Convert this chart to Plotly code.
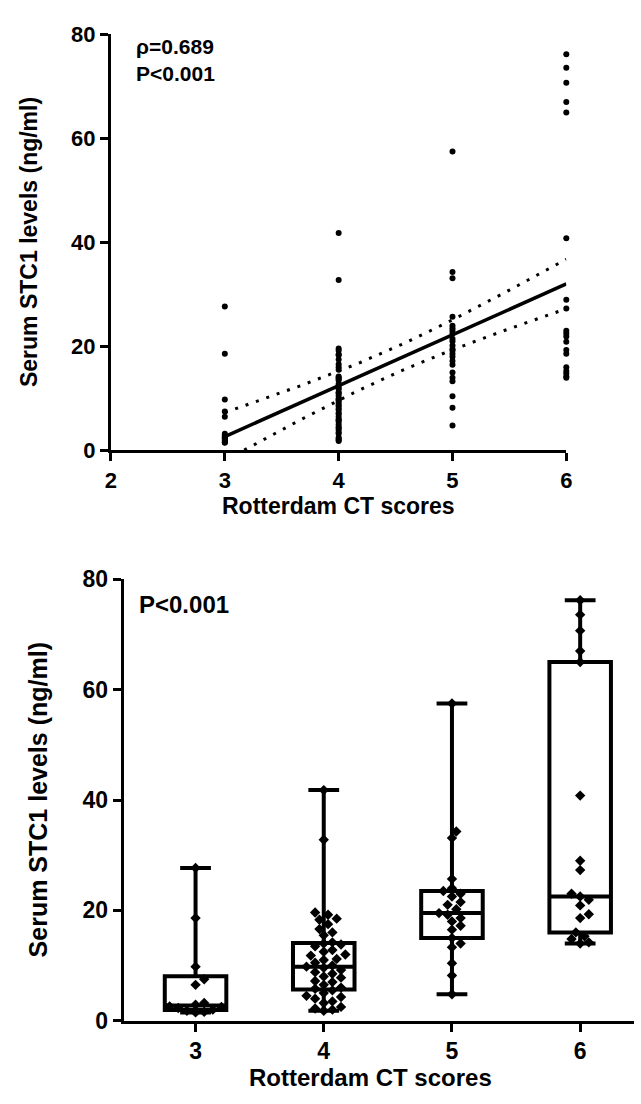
import numpy as np
import plotly.graph_objects as go

# ---------------- data ----------------
scores = [3, 4, 5, 6]
score_labels = ["3", "4", "5", "6"]
stc1_score3 = [27.7, 18.6, 9.8, 7.5, 6.5, 3.2, 2.9, 2.6, 2.5, 2.3, 2.0, 1.8, 1.6, 1.5]
stc1_score4 = [41.8, 32.8, 19.6, 19.2, 18.5, 18.3, 17.5, 16.6, 16.0, 15.5, 14.2, 14.0,
               13.8, 13.5, 12.8, 12.5, 12.0, 11.8, 11.2, 11.0, 10.5, 10.0, 9.8, 9.6,
               9.2, 8.8, 8.5, 8.0, 7.8, 7.2, 7.0, 6.5, 6.0, 5.8, 5.5, 5.0, 4.5, 4.3,
               4.0, 3.5, 3.2, 2.5, 2.2, 2.0, 1.8]
stc1_score5 = [57.5, 34.3, 33.1, 25.7, 24.0, 23.5, 23.0, 22.5, 21.5, 21.0, 20.2, 19.5,
               19.2, 18.6, 18.0, 17.2, 16.5, 15.0, 14.0, 13.3, 10.4, 8.2, 4.8]
stc1_score6 = [76.2, 73.6, 70.7, 67.0, 65.0, 40.8, 29.0, 27.3, 23.0, 22.5, 21.9, 20.9,
               19.3, 18.6, 16.0, 15.3, 14.8, 14.2, 14.0]
groups = [stc1_score3, stc1_score4, stc1_score5, stc1_score6]
y_ticks = [0, 20, 40, 60, 80]
x_ticks_top = [2, 3, 4, 5, 6]
x_title = "Rotterdam CT scores"
y_title = "Serum STC1 levels (ng/ml)"
rho_text = "ρ=0.689"
p_text = "P<0.001"

# ---------------- layout geometry ----------------
W, H = 641, 1104
FONT = "Liberation Sans, Arial, sans-serif"
BLACK = "#000000"

top_x_dom = [107 / W, 571 / W]
top_y_dom = [1 - 448 / H, 1 - 22 / H]
bot_x_dom = [120 / W, 640 / W]
bot_y_dom = [1 - 1032 / H, 1 - 580 / H]
bot_x_range = [-0.56, 3.42]

fig = go.Figure()

# ---------------- top: scatter with regression ----------------
xs = np.concatenate([[s] * len(g) for s, g in zip(scores, groups)]).astype(float)
ys = np.concatenate(groups).astype(float)

fig.add_trace(go.Scatter(
    x=xs, y=ys, mode="markers", xaxis="x", yaxis="y",
    marker=dict(color=BLACK, size=6, symbol="circle"),
    cliponaxis=False, showlegend=False, hoverinfo="x+y"))

n = len(xs)
slope, intercept = np.polyfit(xs, ys, 1)
resid = ys - (slope * xs + intercept)
s_err = np.sqrt(np.sum(resid ** 2) / (n - 2))
xbar = xs.mean()
sxx = np.sum((xs - xbar) ** 2)
t_crit = 1.984
xfit = np.linspace(3, 6, 61)
yfit = slope * xfit + intercept
half = t_crit * s_err * np.sqrt(1 / n + (xfit - xbar) ** 2 / sxx)

fig.add_trace(go.Scatter(x=xfit, y=yfit, mode="lines", xaxis="x", yaxis="y",
                         line=dict(color=BLACK, width=3.5), showlegend=False, hoverinfo="skip"))
for band in (yfit + half, yfit - half):
    fig.add_trace(go.Scatter(x=xfit, y=band, mode="lines", xaxis="x", yaxis="y",
                             line=dict(color=BLACK, width=3, dash="3px,8px"),
                             showlegend=False, hoverinfo="skip"))

# ---------------- bottom: box plots with beeswarm ----------------
bot_px_per_unit = (1032 - 580) / 80.0
bot_px_per_cat = (640 - 120) / (bot_x_range[1] - bot_x_range[0])
msize = 8.0


def beeswarm(values):
    vals = np.asarray(values, dtype=float)
    order = np.argsort(vals)
    placed = []
    offs = np.zeros(len(vals))
    step = msize * 0.55
    cands = [0]
    for j in range(1, 30):
        cands += [j, -j]
    for idx in order:
        y = vals[idx] * bot_px_per_unit
        x = 0.0
        for c in cands:
            x = c * step
            if all((x - xo) ** 2 + (y - yo) ** 2 >= (msize * 0.95) ** 2 for xo, yo in placed):
                break
        placed.append((x, y))
        offs[idx] = x / bot_px_per_cat
    return offs


for i, g in enumerate(groups):
    arr = np.asarray(g, dtype=float)
    q1, med, q3 = np.percentile(arr, [25, 50, 75], method="weibull")
    fig.add_trace(go.Box(
        x=[i], q1=[q1], median=[med], q3=[q3],
        lowerfence=[arr.min()], upperfence=[arr.max()],
        xaxis="x2", yaxis="y2", width=0.48, whiskerwidth=0.5,
        line=dict(color=BLACK, width=4), fillcolor="rgba(255,255,255,0)",
        boxpoints=False, showlegend=False, hoverinfo="y"))
    offs = beeswarm(arr)
    fig.add_trace(go.Scatter(
        x=i + offs, y=arr, mode="markers", xaxis="x2", yaxis="y2",
        marker=dict(color=BLACK, size=msize, symbol="diamond"),
        cliponaxis=False, showlegend=False, hoverinfo="y"))


def axis_style(tick_size):
    return dict(
        showline=True, linecolor=BLACK, linewidth=3, ticks="outside", ticklen=8,
        tickwidth=3, tickcolor=BLACK, showgrid=False, zeroline=False,
        tickfont=dict(family=FONT, size=tick_size, color=BLACK, weight="bold"), mirror=False)


fig.update_layout(
    width=W, height=H, margin=dict(l=0, r=0, t=0, b=0),
    paper_bgcolor="white", plot_bgcolor="white",
    font=dict(family=FONT, color=BLACK),
    xaxis=dict(domain=top_x_dom, range=[2, 6], tickvals=x_ticks_top, anchor="y", **axis_style(22)),
    yaxis=dict(domain=top_y_dom, range=[0, 80], tickvals=y_ticks, anchor="x", **axis_style(22)),
    xaxis2=dict(domain=bot_x_dom, range=bot_x_range, tickvals=[0, 1, 2, 3], ticktext=score_labels,
                anchor="y2", **axis_style(23)),
    yaxis2=dict(domain=bot_y_dom, range=[0, 80], tickvals=y_ticks, anchor="x2", **axis_style(23)),
)


def label(text, x_px, y_px, size, angle=0, xanchor="center", yanchor="middle"):
    fig.add_annotation(xref="paper", yref="paper", x=x_px / W, y=1 - y_px / H,
                       xanchor=xanchor, yanchor=yanchor, text=text, showarrow=False,
                       textangle=angle, align="left",
                       font=dict(family=FONT, size=size, color=BLACK, weight="bold"))


# axis titles
label(x_title, 339, 490, 23, yanchor="top")
label(y_title, 24, 235, 23, angle=-90)
label(x_title, 371, 1074, 24, yanchor="top")
label(y_title, 33, 806, 25, angle=-90)

# statistics text
label(rho_text + "<br>" + p_text, 130, 20, 21, xanchor="left", yanchor="top")
label(p_text, 133, 590, 24, xanchor="left", yanchor="top")

fig.write_html("out.html")
